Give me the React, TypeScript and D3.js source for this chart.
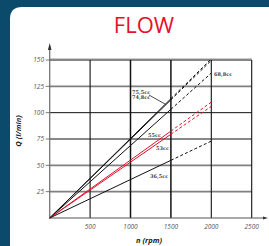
import React from "react";
import * as d3 from "d3";

const W = 269;
const H = 246;

const yTicks = [25, 50, 75, 100, 125, 150];
const xTicks = [500, 1000, 1500, 2000, 2500];
const darkGrid = [75, 100, 150];
const grayGrid = [25, 50, 125];
const thickV = [1000, 1500];

const seriesNames = ["75,5cc", "74,8cc", "68,8cc", "55cc", "53cc", "36,5cc"];
const seriesCc = [75.5, 74.8, 68.8, 55, 53, 36.5];
const seriesRed = [false, false, false, true, true, false];
const solidRpm = [0, 1500];
const dashedRpm = [1500, 2000];

export default function App() {
  const x = d3.scaleLinear().domain([0, 2500]).range([49.7, 251.7]);
  const y = d3.scaleLinear().domain([0, 150]).range([218, 60]);
  const line = d3
    .line<number[]>()
    .x((d) => x(d[0]))
    .y((d) => y(d[1]));

  const fontTick = "'Open Sans', sans-serif";

  return (
    <svg
      width={W}
      height={H}
      style={{ position: "absolute", left: 0, top: 0 }}
      xmlns="http://www.w3.org/2000/svg"
    >
      <rect x={0} y={0} width={W} height={H} fill="#0c4a6b" />
      <path
        d={`M10,${H + 20} L10,19 Q10,7 22,7 L${W + 5},7 L${W + 5},${H + 20} Z`}
        fill="#ffffff"
      />
      <text
        x={144}
        y={33}
        textAnchor="middle"
        fill="#e3112c"
        fontSize={22}
        fontFamily="'Open Sans', 'Liberation Sans', sans-serif"
      >
        FLOW
      </text>
      <line x1={49} x2={252} y1={58.6} y2={58.6} stroke="#c8c8c8" strokeWidth={1} />
      {grayGrid.map((v) => (
        <line key={"g" + v} x1={x(0)} x2={x(2500)} y1={y(v)} y2={y(v)} stroke="#808080" strokeWidth={1.6} />
      ))}
      {darkGrid.map((v) => (
        <line key={"d" + v} x1={x(0)} x2={x(2500)} y1={y(v)} y2={y(v)} stroke="#111" strokeWidth={1} />
      ))}
      {xTicks.map((v) => (
        <line
          key={"v" + v}
          x1={x(v)}
          x2={x(v)}
          y1={y(150)}
          y2={y(0)}
          stroke="#111"
          strokeWidth={thickV.includes(v) ? 1.5 : 1.1}
        />
      ))}
      <line x1={x(0)} x2={x(0)} y1={y(0)} y2={46} stroke="#777" strokeWidth={1.3} />
      <path d={`M${x(0) - 1.8},50 L${x(0)},43 L${x(0) + 1.8},50 Z`} fill="#333" />
      <line x1={x(0)} x2={265} y1={y(0)} y2={y(0)} stroke="#555" strokeWidth={1.2} />
      <path d={`M263,${y(0) - 1.6} L268,${y(0)} L263,${y(0) + 1.6} Z`} fill="#333" />
      {yTicks.map((v) => (
        <g key={"yt" + v}>
          <line x1={x(0) - 4} x2={x(0)} y1={y(v)} y2={y(v)} stroke="#555" strokeWidth={0.8} />
          <text
            x={44}
            y={y(v) + 2.3}
            textAnchor="end"
            fontSize={6.5}
            fontStyle="italic"
            fill="#555"
            fontFamily={fontTick}
          >
            {v}
          </text>
        </g>
      ))}
      {xTicks.map((v) => (
        <text
          key={"xt" + v}
          x={x(v)}
          y={228.5}
          textAnchor="middle"
          fontSize={6.5}
          fontStyle="italic"
          fill="#555"
          fontFamily={fontTick}
        >
          {v}
        </text>
      ))}
      <text
        transform="translate(21,131) rotate(-90)"
        textAnchor="middle"
        fontSize={7.5}
        fontWeight="bold"
        fontStyle="italic"
        fill="#222"
        fontFamily={fontTick}
      >
        Q (l/min)
      </text>
      <text
        x={149}
        y={243}
        textAnchor="middle"
        fontSize={7.5}
        fontWeight="bold"
        fontStyle="italic"
        fill="#222"
        fontFamily={fontTick}
      >
        n (rpm)
      </text>
      {seriesCc.map((cc, i) => {
        const color = seriesRed[i] ? "#e3112c" : "#111";
        const solid = solidRpm.map((r) => [r, (cc * r) / 1000]);
        const dashed = dashedRpm.map((r) => [r, (cc * r) / 1000]);
        return (
          <g key={"s" + i}>
            <path d={line(solid) || ""} fill="none" stroke={color} strokeWidth={1} />
            <path d={line(dashed) || ""} fill="none" stroke={color} strokeWidth={1} strokeDasharray="3,2.2" />
          </g>
        );
      })}
      <line x1={149} y1={95} x2={165.5} y2={104.3} stroke="#222" strokeWidth={0.8} />
      <g fontSize={5} fontWeight="bold" fill="#444" fontFamily="'DejaVu Serif', serif">
        <text x={132} y={93.5}>{seriesNames[0]}</text>
        <text x={132} y={99}>{seriesNames[1]}</text>
        <text x={214} y={75.5}>{seriesNames[2]}</text>
        <text x={148} y={137}>{seriesNames[3]}</text>
        <text x={156} y={150}>{seriesNames[4]}</text>
        <text x={150} y={178}>{seriesNames[5]}</text>
      </g>
    </svg>
  );
}
